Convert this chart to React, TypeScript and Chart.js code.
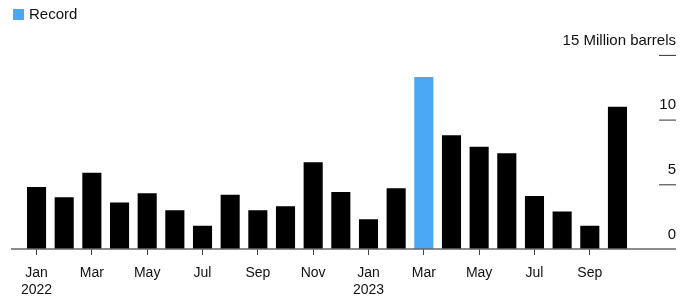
import React, { useEffect, useRef } from "react";
import { Chart, registerables } from "chart.js";

Chart.register(...registerables);

const months = ["Jan", "Feb", "Mar", "Apr", "May", "Jun", "Jul", "Aug", "Sep", "Oct", "Nov", "Dec",
  "Jan", "Feb", "Mar", "Apr", "May", "Jun", "Jul", "Aug", "Sep", "Oct"];
const years = ["2022", "", "", "", "", "", "", "", "", "", "", "", "2023", "", "", "", "", "", "", "", "", ""];
const values = [4.8, 4.0, 5.9, 3.6, 4.3, 3.0, 1.8, 4.2, 3.0, 3.3, 6.7, 4.4,
  2.3, 4.7, 13.3, 8.8, 7.9, 7.4, 4.1, 2.9, 1.8, 11.0];
const yTicks = [0, 5, 10, 15];
const yUnit = "Million barrels";
const legendLabel = "Record";

const BLUE = "#4aa8f7";
const FONT = "'Liberation Sans', Arial, sans-serif";

export default function App() {
  const ref = useRef<HTMLCanvasElement | null>(null);
  useEffect(() => {
    if (!ref.current) return;
    const maxV = Math.max(...values);
    const overlay = {
      id: "overlay",
      afterDatasetsDraw(chart: any) {
        const ctx = chart.ctx;
        const y = chart.scales.y;
        const right = 676;
        ctx.save();
        // baseline
        ctx.strokeStyle = "#666";
        ctx.lineWidth = 1.4;
        ctx.beginPath();
        ctx.moveTo(11, y.getPixelForValue(0));
        ctx.lineTo(right, y.getPixelForValue(0));
        ctx.stroke();
        // y ticks
        ctx.font = `15px ${FONT}`;
        ctx.fillStyle = "#111";
        ctx.textAlign = "right";
        ctx.textBaseline = "middle";
        yTicks.forEach((t) => {
          const py = y.getPixelForValue(t);
          if (t !== 0) {
            ctx.strokeStyle = "#333";
            ctx.lineWidth = 1;
            ctx.beginPath();
            ctx.moveTo(659, py + 0.5);
            ctx.lineTo(right, py + 0.5);
            ctx.stroke();
          }
          const label = t === yTicks[yTicks.length - 1] ? `${t} ${yUnit}` : `${t}`;
          ctx.fillText(label, right, py - 14.5);
        });
        // legend
        ctx.fillStyle = BLUE;
        ctx.fillRect(13, 9, 11, 11);
        ctx.fillStyle = "#111";
        ctx.textAlign = "left";
        ctx.fillText(legendLabel, 29, 15);
        ctx.restore();
      },
    };
    const chart = new Chart(ref.current, {
      type: "bar",
      data: {
        labels: months,
        datasets: [
          {
            data: values,
            backgroundColor: values.map((v) => (v === maxV ? BLUE : "#000")),
            barPercentage: 0.69,
            categoryPercentage: 1,
          },
        ],
      },
      options: {
        responsive: false,
        animation: false,
        layout: { padding: { left: 22.7, right: 68.7, top: 54.9, bottom: 0 } },
        plugins: { legend: { display: false }, tooltip: { enabled: false } },
        scales: {
          y: { display: false, min: 0, max: 15 },
          x: {
            afterFit: (s: any) => {
              s.height = 56;
            },
            border: { display: false },
            grid: {
              offset: false,
              drawOnChartArea: false,
              tickLength: 6,
              tickWidth: 1,
              tickColor: (c: any) => (c.index % 2 === 0 ? "#444" : "rgba(0,0,0,0)"),
            },
            ticks: {
              autoSkip: false,
              maxRotation: 0,
              padding: 9,
              color: "#111",
              font: { size: 14, family: FONT, lineHeight: 1.25 },
              callback: (_v: any, i: number) =>
                i % 2 === 0 ? (years[i] ? [months[i], years[i]] : months[i]) : "",
            },
          },
        },
      },
      plugins: [overlay],
    });
    return () => chart.destroy();
  }, []);
  return (
    <div style={{ position: "absolute", left: 0, top: 0, width: 700, height: 305 }}>
      <canvas ref={ref} width={700} height={305} style={{ width: 700, height: 305 }} />
    </div>
  );
}
